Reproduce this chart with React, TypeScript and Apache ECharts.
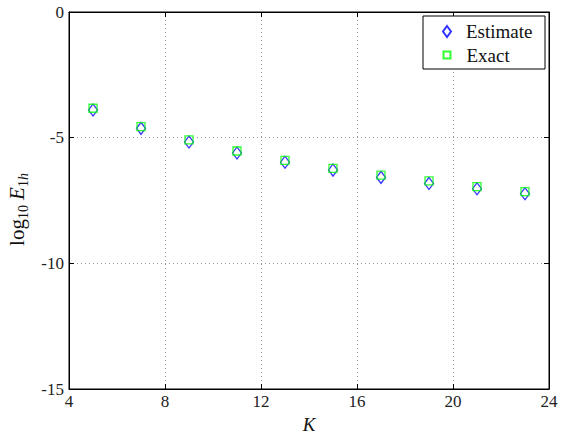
import React, { useEffect, useRef } from "react";
import * as echarts from "echarts";

const kValues = [5, 7, 9, 11, 13, 15, 17, 19, 21, 23];
const estimate = [-3.9, -4.63, -5.17, -5.61, -5.98, -6.29, -6.58, -6.82, -7.03, -7.23];
const exact = [-3.83, -4.56, -5.09, -5.53, -5.9, -6.22, -6.49, -6.72, -6.95, -7.15];
const xTicks = [4, 8, 12, 16, 20, 24];
const yTicks = [-15, -10, -5, 0];

const FONT = "'Liberation Serif', 'Times New Roman', serif";

export default function App() {
  const ref = useRef<HTMLDivElement>(null);
  useEffect(() => {
    if (!ref.current) return;
    const chart = echarts.init(ref.current, undefined, { renderer: "svg" });
    const axisCommon = {
      type: "value" as const,
      axisLine: { show: true, onZero: false, lineStyle: { color: "#000", width: 1 } },
      axisTick: { show: true, inside: true, length: 5, lineStyle: { color: "#000" } },
      splitLine: { show: false },
    };
    const legendText = { fontFamily: FONT, fontSize: 19, color: "#111", padding: [0, 0, 0, 10] };
    const subStyle = { fontFamily: FONT, fontSize: 14, color: "#111", verticalAlign: "bottom", lineHeight: 14, padding: [10, 0, 0, 0] };
    chart.setOption({
      animation: false,
      backgroundColor: "#fff",
      grid: {
        left: 69,
        top: 12,
        width: 480,
        height: 377,
        show: true,
        borderColor: "#000",
        borderWidth: 1,
        backgroundColor: "transparent",
        outerBoundsMode: "none",
        containLabel: false,
      },
      xAxis: [
        {
          ...axisCommon,
          min: xTicks[0],
          max: xTicks[xTicks.length - 1],
          interval: 4,
          position: "bottom",
          axisLabel: { color: "#222", fontFamily: FONT, fontSize: 17, margin: 4 },
          splitLine: { show: true, lineStyle: { color: "#999", type: [1, 3], width: 1 } },
          name: "K",
          nameLocation: "middle",
          nameGap: 22,
          nameTextStyle: { fontFamily: FONT, fontSize: 19, fontStyle: "italic", color: "#111" },
        },
        {
          ...axisCommon,
          min: xTicks[0],
          max: xTicks[xTicks.length - 1],
          interval: 4,
          position: "top",
          axisLabel: { show: false },
        },
      ],
      yAxis: [
        {
          ...axisCommon,
          min: yTicks[0],
          max: yTicks[yTicks.length - 1],
          interval: 5,
          position: "left",
          axisLabel: { color: "#222", fontFamily: FONT, fontSize: 17, margin: 5 },
          splitLine: { show: true, lineStyle: { color: "#999", type: [1, 3], width: 1 } },
          name: "{a|log}{s|10} {e|E}{s|1}{si|h}",
          nameLocation: "middle",
          nameGap: 28,
          nameRotate: 90,
          nameTextStyle: {
            color: "#111",
            fontFamily: FONT,
            fontSize: 21,
            padding: [0, 18, 0, 0],
            rich: {
              a: { fontFamily: FONT, fontSize: 21, color: "#111", lineHeight: 26 },
              e: { fontFamily: FONT, fontSize: 21, fontStyle: "italic", color: "#111", lineHeight: 26 },
              s: subStyle,
              si: { ...subStyle, fontStyle: "italic" },
            },
          },
        },
        {
          ...axisCommon,
          min: yTicks[0],
          max: yTicks[yTicks.length - 1],
          interval: 5,
          position: "right",
          axisLabel: { show: false },
        },
      ],
      legend: [
        {
          orient: "vertical",
          left: 442,
          top: 22,
          padding: 0,
          z: 100,
          itemWidth: 8,
          itemHeight: 11,
          textStyle: legendText,
          data: ["Estimate"],
        },
        {
          orient: "vertical",
          left: 442.5,
          top: 45.5,
          padding: 0,
          z: 100,
          itemWidth: 7,
          itemHeight: 7,
          textStyle: { ...legendText, padding: [0, 0, 0, 11] },
          data: ["Exact"],
        },
      ],
      graphic: [
        {
          type: "rect",
          shape: { x: 423, y: 16, width: 122, height: 53 },
          style: { fill: "#fff", stroke: "#000", lineWidth: 1 },
          z: 50,
        },
      ],
      series: [
        {
          name: "Estimate",
          type: "scatter",
          symbol: "diamond",
          symbolSize: [9, 12],
          data: kValues.map((k, i) => [k, estimate[i]]),
          itemStyle: { color: "rgba(255,255,255,0)", borderColor: "#0000ff", borderWidth: 1.3 },
          z: 3,
        },
        {
          name: "Exact",
          type: "scatter",
          symbol: "rect",
          symbolSize: 8,
          data: kValues.map((k, i) => [k, exact[i]]),
          itemStyle: { color: "rgba(255,255,255,0)", borderColor: "#00ff00", borderWidth: 1.3 },
          z: 4,
        },
      ],
    });
    return () => chart.dispose();
  }, []);
  return (
    <div
      ref={ref}
      style={{ position: "fixed", left: 0, top: 0, width: 563, height: 435, background: "#fff" }}
    />
  );
}
